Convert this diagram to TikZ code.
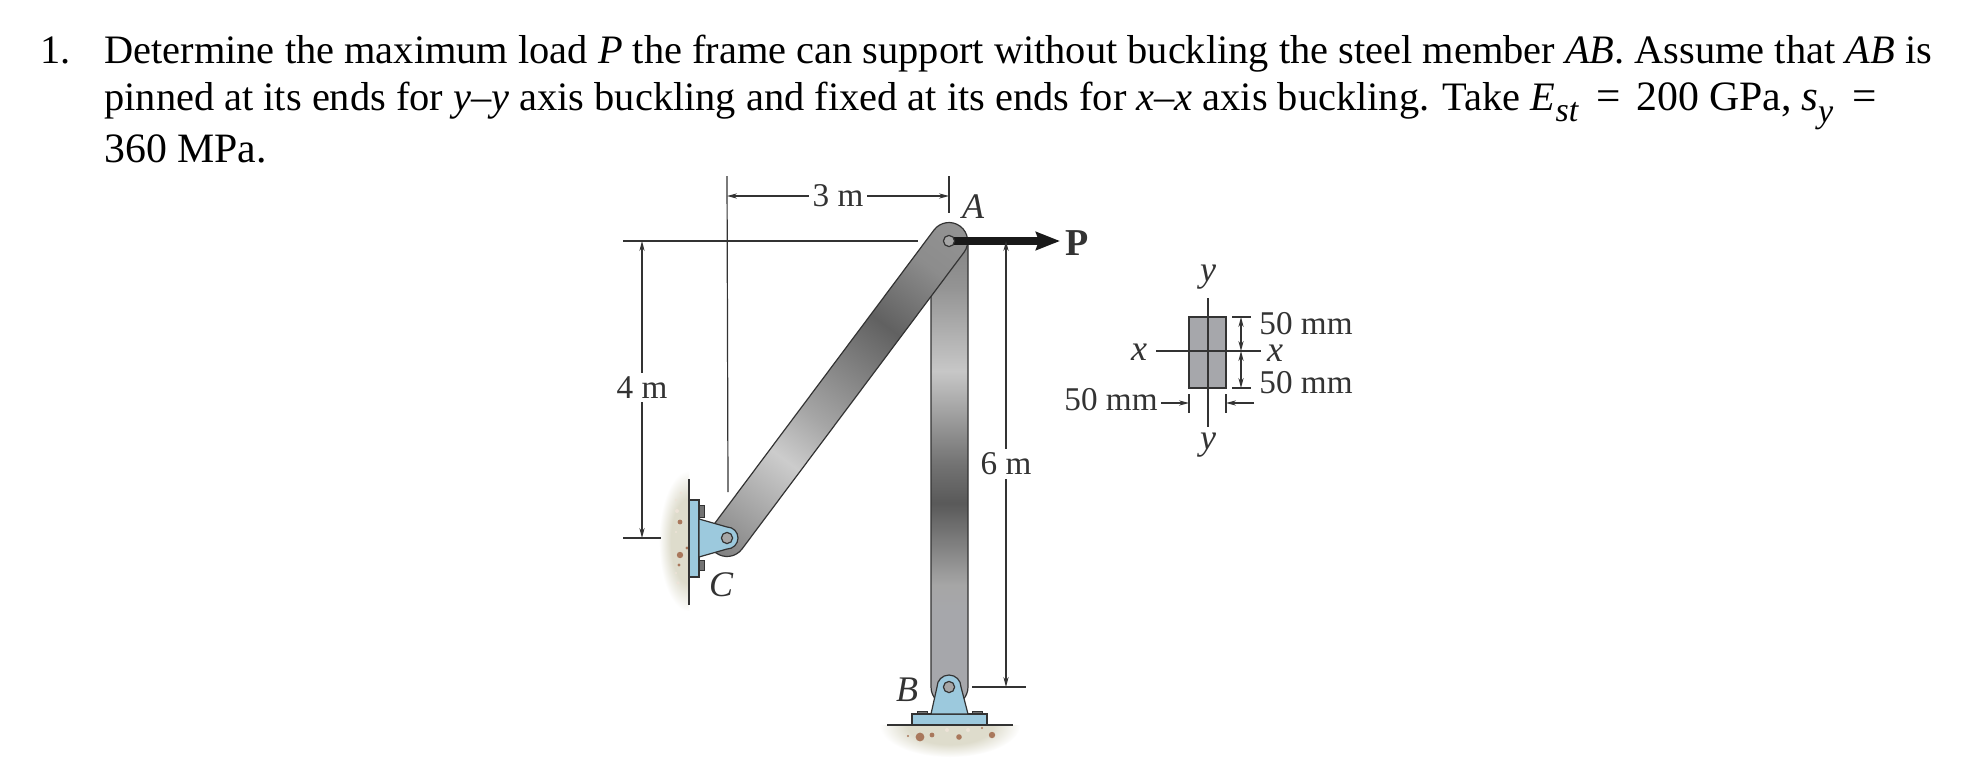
\documentclass[tikz,border=0pt]{standalone}
\usepackage{fontspec}
\setmainfont{Liberation Serif}
\usetikzlibrary{arrows.meta,fadings}
\definecolor{inkdark}{HTML}{333333}
\definecolor{clevisblue}{HTML}{9CC9DD}
\definecolor{sectiongray}{HTML}{A6A7AB}
\definecolor{concrete}{HTML}{DEDCCC}
\definecolor{pebble}{HTML}{A9785C}
\definecolor{pebblepale}{HTML}{EDE3D8}
\pgfdeclareverticalshading{columnbar}{100bp}{
    color(0bp)=(sectiongray); color(35bp)=(sectiongray); color(38bp)=(black!35);
    color(46.75bp)=(black!65); color(51bp)=(black!55); color(61bp)=(black!22);
    color(70bp)=(black!42); color(75bp)=(black!48); color(100bp)=(black!48)}
\pgfdeclareverticalshading{strutbar}{100bp}{
    color(0bp)=(black!52); color(15bp)=(black!52); color(35.6bp)=(black!20);
    color(44bp)=(black!35); color(63bp)=(black!62); color(75bp)=(black!45);
    color(85bp)=(black!42); color(100bp)=(black!42)}
\pgfdeclareradialshading{softshade}{\pgfpoint{0bp}{0bp}}{
    color(0bp)=(pgftransparent!0); color(15bp)=(pgftransparent!0);
    color(25bp)=(pgftransparent!100); color(50bp)=(pgftransparent!100)}
\pgfdeclarefading{softedge}{\pgfuseshading{softshade}}
\newcommand{\subtext}[1]{\raisebox{-0.28em}{\fontsize{17pt}{19pt}\selectfont\textit{#1}}}
\tikzset{
    every picture/.style={x=0.5pt,y=-0.5pt},
    >={Stealth[length=5pt,width=2.6pt]},
    bodytext/.style={anchor=base west,inner sep=0pt,font=\fontsize{20.2pt}{22pt}\selectfont},
    mathtext/.style={anchor=base west,inner sep=0pt,font=\fontsize{21.6pt}{23pt}\selectfont},
    unittext/.style={anchor=base west,inner sep=0pt,font=\fontsize{20.9pt}{23pt}\selectfont},
    dimtext/.style={inner sep=0pt,text=inkdark,font=\fontsize{16.6pt}{18pt}\selectfont},
    nametext/.style={inner sep=0pt,text=inkdark,font=\fontsize{18pt}{20pt}\selectfont\itshape},
    dimgap/.style={dimtext,fill=white,inner ysep=2pt,inner xsep=2pt},
    extline/.style={draw=inkdark,line width=0.6pt},
    dimline/.style={extline,<->},
    member/.style={draw=inkdark,line width=0.6pt},
    clevis/.style={draw=inkdark,line width=0.6pt,fill=clevisblue},
    bolt/.style={draw=inkdark,line width=0.5pt,fill=black!55},
    pinball/.style={draw=inkdark,line width=0.6pt,fill=black!35},
    load/.style={line width=3.6pt,draw=black!90,-{Stealth[length=12pt,width=9pt,inset=1.5pt]}}
}
\begin{document}
\begin{tikzpicture}
    \useasboundingbox (0,0) rectangle (1968,766);
    \fill[white] (0,0) rectangle (1968,766);

    \node[bodytext] (num) at (40,63) {1.};
    \node[bodytext] (lineone) at (104,63) {Determine the maximum load \textit{P} the frame can support without buckling the steel member \textit{AB}. Assume that \textit{AB} is};
    \node[bodytext] (linetwo) at (104,110) {pinned at its ends for \textit{y--y} axis buckling and fixed at its ends for \textit{x--x} axis buckling. Take \textit{E}\subtext{st}};
    \node[mathtext] (eqone) at (1596,110) {=};
    \node[unittext] (modulus) at (1636,110) {200 GPa,};
    \node[mathtext] (yieldsym) at (1801,110) {\textit{s}\subtext{y}};
    \node[mathtext] (eqtwo) at (1852,110) {=};
    \node[unittext] (linethree) at (104,162) {360 MPa.};

    \coordinate (A) at (949,241);
    \coordinate (B) at (949,687);
    \coordinate (C) at (727,538);

    % wall and floor
    \begin{scope}
      \clip (640,470) rectangle (689,612);
      \fill[concrete,path fading=softedge] (689,541) ellipse[x radius=15pt,y radius=35pt];
    \end{scope}
    \begin{scope}
      \clip (880,725) rectangle (1020,760);
      \fill[concrete,path fading=softedge] (950,725) ellipse[x radius=35pt,y radius=16pt];
    \end{scope}
    \fill[pebble] (680,522) circle[radius=1.2pt] (680,555) circle[radius=1.6pt]
      (679,565) circle[radius=0.8pt] (687,548) circle[radius=0.8pt]
      (920,737) circle[radius=2.2pt] (932,735) circle[radius=1.2pt]
      (959,737) circle[radius=1.4pt] (992,735) circle[radius=1.6pt]
      (908,736) circle[radius=0.6pt] (982,728) circle[radius=0.6pt];
    \fill[pebblepale] (677,511) circle[radius=1pt] (681,493) circle[radius=0.8pt]
      (676,500) circle[radius=0.6pt] (676,532) circle[radius=0.6pt]
      (676,573) circle[radius=0.6pt] (678,583) circle[radius=0.9pt]
      (947,730) circle[radius=1pt] (968,730) circle[radius=1pt];
    \draw[extline] (689,479) -- (689,605);
    \draw[extline] (887,725) -- (1013,725);

    % column AB
    \draw[member,shading=columnbar] (931,241) -- (931,687)
      arc[start angle=180,end angle=360,radius=9.25pt] -- (968,241) -- cycle;

    % strut AC
    \draw[member,shading=strutbar,shading angle=-36.8] (712,527) -- (934,230)
      arc[start angle=143.2,end angle=-36.8,radius=9.35pt] -- (742,549)
      arc[start angle=-36.8,end angle=-216.8,radius=9.35pt] -- cycle;

    % support at C
    \draw[clevis] (689,500) rectangle (699,577);
    \draw[bolt] (699,505) rectangle (704,517);
    \draw[bolt] (699,560) rectangle (704,570);
    \draw[clevis] (699,519) -- (727,527)
      arc[start angle=90,end angle=-90,radius=5.5pt] -- (699,557) -- cycle;
    \draw[pinball] (C) circle[radius=2.8pt];

    % support at B
    \draw[bolt] (917,711) rectangle (927,714);
    \draw[bolt] (972,711) rectangle (982,714);
    \draw[clevis] (912,714) rectangle (987,725);
    \draw[clevis] (931,714) -- (937,687)
      arc[start angle=180,end angle=0,radius=6pt] -- (968,714) -- cycle;
    \draw[pinball] (B) circle[radius=2.8pt];

    % load
    \node[font=\fontsize{19pt}{21pt}\selectfont\bfseries,inner sep=0pt,text=inkdark] (loadP) at (1077,243) {P};
    \draw[load] (A) -- ++(111,0);
    \draw[pinball] (A) circle[radius=2.8pt];

    % dimensions
    \draw[extline] (C |- 0,176) -- (728,492);
    \draw[extline] (A |- 0,176) -- (A |- 0,213);
    \draw[extline] (623,241) -- (918,241);
    \draw[extline] (623,538) -- (661,538);
    \draw[extline] (972,687) -- (1026,687);
    \draw[dimline] (C |- 0,196) -- (A |- 0,196) node[dimgap,midway] (lenAC) {3 m};
    \draw[dimline] (642,0 |- A) -- (642,0 |- C) node[dimgap,midway,yshift=1pt] (heightC) {4 m};
    \draw[dimline] (1006,0 |- A) -- (1006,0 |- B) node[dimgap,midway] (lenAB) {6 m};

    \node[nametext] (nameA) at (973,207) {A};
    \node[nametext] (nameB) at (907,690) {B};
    \node[nametext] (nameC) at (721,585) {C};

    % cross section
    \draw[extline,fill=sectiongray] (1189,317) rectangle (1226,388);
    \draw[extline] (1208,298) -- (1208,427);
    \draw[extline] (1156,351) -- (1261,351);
    \node[nametext] (ytop) at (1208,277) {y};
    \node[nametext] (ybot) at (1208,445) {y};
    \node[nametext] (xleft) at (1139,352) {x};
    \node[nametext] (xright) at (1275,353) {x};
    \draw[extline] (1232,317) -- (1251,317);
    \draw[extline] (1232,388) -- (1251,388);
    \draw[dimline] (1241,317) -- (1241,351);
    \draw[dimline] (1241,351) -- (1241,388);
    \draw[extline] (1189,394) -- (1189,413);
    \draw[extline] (1226,394) -- (1226,413);
    \node[dimtext,anchor=west] (depthtop) at (1259,324) {50 mm};
    \node[dimtext,anchor=west] (depthbot) at (1259,383) {50 mm};
    \node[dimtext,anchor=east] (widthsec) at (1158,400) {50 mm};
    \draw[extline,->] (1161,403) -- (1189,403);
    \draw[extline,->] (1254,403) -- (1226,403);
\end{tikzpicture}
\end{document}
